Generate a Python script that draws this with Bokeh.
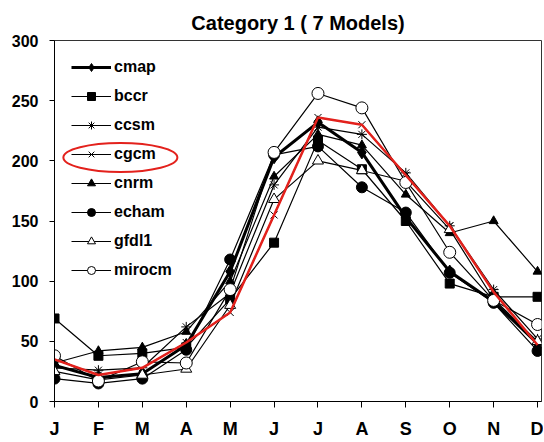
from bokeh.plotting import figure
from bokeh.models import Range1d, Legend, LegendItem, FixedTicker, ColumnDataSource
from bokeh.embed import file_html
from bokeh.resources import INLINE

months = ["J", "F", "M", "A", "M", "J", "J", "A", "S", "O", "N", "D"]
cmap = [30, 20, 23, 47, 108, 203, 232, 207, 153, 108, 83, 48]
bccr = [69, 38, 40, 45, 85, 132, 217, 193, 150, 98, 87, 87]
ccsm = [28, 26, 28, 62, 90, 180, 228, 222, 190, 146, 93, 52]
cgcm = [35, 22, 28, 49, 74, 155, 236, 230, 188, 146, 91, 47]
cnrm = [32, 42, 45, 58, 100, 187, 222, 213, 172, 140, 150, 108]
echam = [19, 15, 19, 43, 118, 205, 212, 178, 157, 107, 82, 42]
gfdl1 = [25, 18, 22, 27, 80, 168, 200, 192, 183, 143, 85, 50]
mirocm = [38, 17, 33, 32, 93, 207, 256, 244, 182, 124, 84, 64]

FONT = "Liberation Sans"
xs = list(range(len(months)))

p = figure(frame_width=487, frame_height=361, output_backend="svg", toolbar_location=None,
           x_range=Range1d(0, 11.09), y_range=Range1d(0, 300),
           min_border_left=54, min_border_right=2, min_border_top=40, min_border_bottom=40,
           title="Category 1 ( 7 Models)")
p.title.align = "center"
p.title.text_font = FONT
p.title.text_font_size = "20px"
p.title.text_font_style = "bold"
p.title.text_color = "black"
p.title.standoff = 14

p.xgrid.visible = False
p.ygrid.visible = False
p.outline_line_color = "#333333"
p.outline_line_width = 1

for ax in (p.xaxis, p.yaxis):
    ax.axis_line_color = "black"
    ax.major_tick_line_color = "black"
    ax.minor_tick_line_color = None
    ax.major_tick_in = 0
    ax.major_label_text_font = FONT
    ax.major_label_text_font_style = "bold"
    ax.major_label_text_color = "black"

p.yaxis.ticker = FixedTicker(ticks=[0, 50, 100, 150, 200, 250, 300])
p.yaxis.major_tick_out = 5
p.yaxis.major_label_standoff = 11
p.yaxis.major_label_text_font_size = "16px"

p.xaxis.ticker = FixedTicker(ticks=xs)
p.xaxis.major_label_overrides = {i: m for i, m in enumerate(months)}
p.xaxis.major_tick_out = 6
p.xaxis.major_label_standoff = 11
p.xaxis.major_label_text_font_size = "18px"

series = [
    ("cmap", cmap, "diamond", "black", 3, 13),
    ("bccr", bccr, "square", "black", 1.2, 9),
    ("ccsm", ccsm, "asterisk", "white", 1.2, 10),
    ("cgcm", cgcm, "x", "white", 1.2, 10),
    ("cnrm", cnrm, "triangle", "black", 1.2, 9),
    ("echam", echam, "circle", "black", 1.2, 11),
    ("gfdl1", gfdl1, "triangle", "white", 1.2, 11),
    ("mirocm", mirocm, "circle", "white", 1.2, 12),
]

items = []
for name, vals, marker, fill, lw, size in series:
    src = ColumnDataSource(dict(x=xs, y=vals))
    ln = p.line("x", "y", source=src, line_color="black", line_width=lw)
    sc = p.scatter("x", "y", source=src, marker=marker, size=size,
                   line_color="black", fill_color=fill, line_width=1)
    items.append(LegendItem(label=name, renderers=[ln, sc]))

# red highlight of cgcm
p.line(xs, cgcm, line_color="#e3211c", line_width=2.5)

legend = Legend(items=items, location="top_left", border_line_color=None,
                background_fill_alpha=0, margin=17, padding=8, spacing=9,
                glyph_width=40, glyph_height=20, label_height=20, label_standoff=3,
                label_text_font=FONT, label_text_font_style="bold",
                label_text_font_size="16px", label_text_color="black")
p.add_layout(legend)

# red ellipse around the cgcm legend entry (annotation, in screen units)
ell_x = 1.5
ell_y = 202.8
p.ellipse(x=[ell_x], y=[ell_y], width=114, height=29, width_units="screen",
          height_units="screen", fill_color=None, line_color="#e3211c", line_width=2)

open("out.html", "w").write(file_html(p, INLINE))
